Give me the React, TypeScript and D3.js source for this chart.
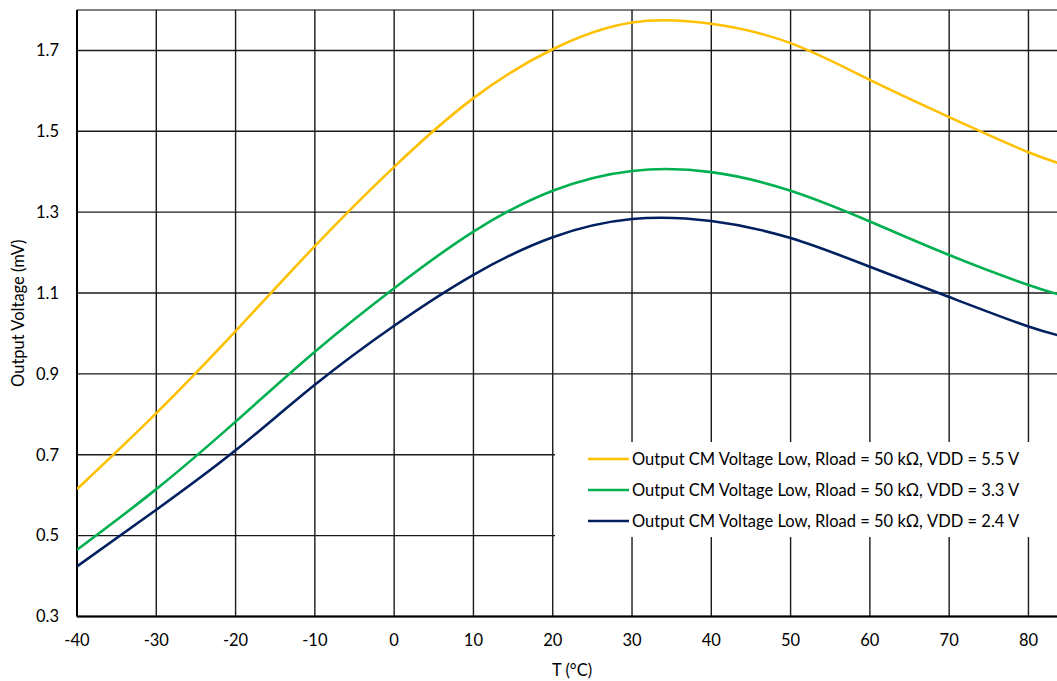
import React from "react";
import * as d3 from "d3";

const temps = [-40, -30, -20, -10, 0, 10, 20, 30, 40, 50, 60, 70, 80, 85];
const vdd55 = [0.615, 0.803, 1.006, 1.216, 1.412, 1.582, 1.703, 1.769, 1.766, 1.718, 1.627, 1.535, 1.448, 1.415];
const vdd33 = [0.465, 0.615, 0.782, 0.955, 1.112, 1.252, 1.353, 1.402, 1.399, 1.353, 1.277, 1.194, 1.12, 1.09];
const vdd24 = [0.424, 0.564, 0.711, 0.873, 1.019, 1.145, 1.238, 1.283, 1.278, 1.236, 1.165, 1.09, 1.017, 0.99];

const xTicks = [-40, -30, -20, -10, 0, 10, 20, 30, 40, 50, 60, 70, 80];
const yTicks = [0.3, 0.5, 0.7, 0.9, 1.1, 1.3, 1.5, 1.7];

const seriesNames = [
  "Output CM Voltage Low, Rload = 50 kΩ, VDD = 5.5 V",
  "Output CM Voltage Low, Rload = 50 kΩ, VDD = 3.3 V",
  "Output CM Voltage Low, Rload = 50 kΩ, VDD = 2.4 V",
];
const seriesValues = [vdd55, vdd33, vdd24];
const seriesColors = ["#FFC000", "#00B050", "#002060"];

const W = 1057;
const H = 681;
const FONT = "Lato, 'Open Sans', sans-serif";
const FS = 16.5;

export default function App() {
  const x = d3.scaleLinear().domain([-40, 83.6]).range([77, 1057]);
  const y = d3.scaleLinear().domain([0.3, 1.8]).range([616.5, 10]);

  const line = d3
    .line<[number, number]>()
    .x((d) => x(d[0]))
    .y((d) => y(d[1]))
    .curve(d3.curveNatural);

  const legend = { x: 555, y: 442, w: 502, h: 95 };
  const legendRows = [459, 490, 521];

  return (
    <svg
      width={W}
      height={H}
      style={{ position: "absolute", left: 0, top: 0, background: "#fff" }}
      fontFamily={FONT}
    >
      <defs>
        <clipPath id="plot">
          <rect x={x(-40)} y={y(1.8)} width={x(83.6) - x(-40)} height={y(0.3) - y(1.8)} />
        </clipPath>
      </defs>
      {yTicks.map((t) => (
        <line key={"h" + t} x1={x(-40)} x2={W} y1={y(t)} y2={y(t)} stroke="#1a1a1a" strokeWidth={1.4} />
      ))}
      <line x1={x(-40)} x2={W} y1={y(1.8)} y2={y(1.8)} stroke="#555" strokeWidth={1.4} />
      {xTicks.map((t) => (
        <line key={"v" + t} x1={x(t)} x2={x(t)} y1={y(1.8)} y2={y(0.3)} stroke="#1a1a1a" strokeWidth={1.4} />
      ))}
      <line x1={x(-40)} x2={x(-40)} y1={y(1.8)} y2={y(0.3)} stroke="#000" strokeWidth={2} />
      <line x1={x(-40)} x2={W} y1={y(0.3)} y2={y(0.3)} stroke="#000" strokeWidth={2} />

      <rect x={legend.x} y={legend.y} width={legend.w} height={legend.h} fill="#fff" />

      <g clipPath="url(#plot)">
        {seriesValues.map((vals, i) => (
          <path
            key={"s" + i}
            d={line(temps.map((t, j) => [t, vals[j]] as [number, number])) || ""}
            fill="none"
            stroke={seriesColors[i]}
            strokeWidth={2.6}
          />
        ))}
      </g>

      {seriesNames.map((name, i) => (
        <g key={"l" + i}>
          <line x1={588} x2={629} y1={legendRows[i]} y2={legendRows[i]} stroke={seriesColors[i]} strokeWidth={2.6} />
          <text x={632} y={legendRows[i]} dy="0.35em" fontSize={FS} fill="#000">
            {name}
          </text>
        </g>
      ))}

      {yTicks.map((t) => (
        <text key={"yl" + t} x={59} y={y(t)} dy="0.35em" textAnchor="end" fontSize={FS} fill="#000">
          {t.toFixed(1)}
        </text>
      ))}
      {xTicks.map((t) => (
        <text key={"xl" + t} x={x(t)} y={646} textAnchor="middle" fontSize={FS} fill="#000">
          {t}
        </text>
      ))}

      <text
        transform={`translate(24, ${(y(1.8) + y(0.3)) / 2}) rotate(-90)`}
        textAnchor="middle"
        fontSize={FS}
        fill="#000"
      >
        Output Voltage (mV)
      </text>
      <text x={572} y={676} textAnchor="middle" fontSize={FS} fill="#000">
        T (°C)
      </text>
    </svg>
  );
}
